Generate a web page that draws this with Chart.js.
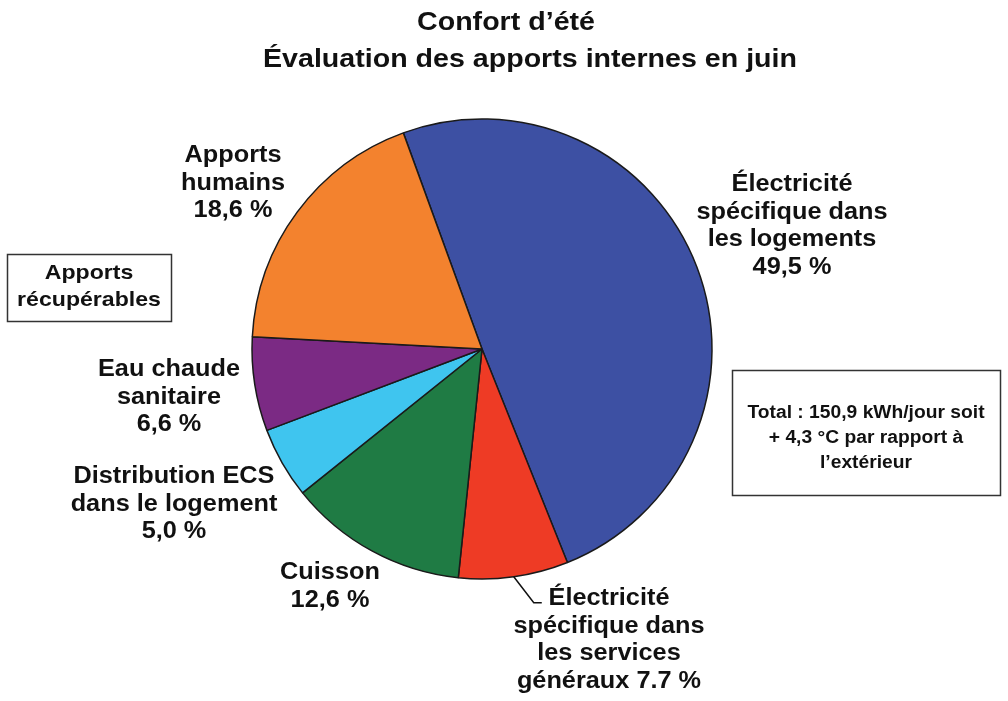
<!DOCTYPE html>
<html lang="fr">
<head>
<meta charset="utf-8">
<title>Confort d'été</title>
<script src="https://cdn.jsdelivr.net/npm/chart.js@4.4.1/dist/chart.umd.min.js"></script>
<style>
  html, body { margin: 0; padding: 0; background: #fff; }
  #wrap { width: 1008px; height: 701px; }
</style>
</head>
<body>
<div id="wrap"><canvas id="myChart" width="1008" height="701"></canvas></div>
<script>
"use strict";

//data, clockwise from the top
const categories = [
    'Électricité spécifique dans les logements',
    'Électricité spécifique dans les services généraux',
    'Cuisson',
    'Distribution ECS dans le logement',
    'Eau chaude sanitaire',
    'Apports humains'
];
const shares = [49.5, 7.7, 12.6, 5.0, 6.6, 18.6];
const shareTexts = ['49,5 %', '7.7 %', '12,6 %', '5,0 %', '6,6 %', '18,6 %'];
const labelLines = [
    ['Électricité', 'spécifique dans', 'les logements', shareTexts[0]],
    ['Électricité', 'spécifique dans', 'les services', 'généraux ' + shareTexts[1]],
    ['Cuisson', shareTexts[2]],
    ['Distribution ECS', 'dans le logement', shareTexts[3]],
    ['Eau chaude', 'sanitaire', shareTexts[4]],
    ['Apports', 'humains', shareTexts[5]]
];
const sliceColors = ['#3d50a3', '#ee3b25', '#1f7b44', '#3fc5ef', '#7b2a84', '#f3822e'];

const titleLines = ['Confort d\u2019été', 'Évaluation des apports internes en juin'];
const boxLeftLines = ['Apports', 'récupérables'];
const boxRightLines = ['Total : 150,9 kWh/jour soit', '+ 4,3 °C par rapport à', 'l\u2019extérieur'];

//label anchors: offset of first baseline from pie centre (px)
const labelOffsets = [[310, -158], [127, 256], [-152, 230], [-308, 134], [-313, 27], [-249, -187]];
const lineGap = 27.5;
const stretch = 1.1;   //text in the original is a bit wider than Arial

function drawText(ctx, text, x, y, size) {
    ctx.save();
    ctx.translate(x, y);
    ctx.scale(stretch, 1);
    ctx.font = 'bold ' + size + 'px "Liberation Sans", Arial, sans-serif';
    ctx.textAlign = 'center';
    ctx.textBaseline = 'alphabetic';
    ctx.fillStyle = '#111';
    ctx.fillText(text, 0, 0);
    ctx.restore();
}

//plugin for titles, slice labels and the two boxes
const annotations = {
    id: 'annotations',
    afterDraw(chart) {
        const ctx = chart.ctx;
        const arcs = chart.getDatasetMeta(0).data;
        const cx = arcs[0].x, cy = arcs[0].y;

        drawText(ctx, titleLines[0], 506, 30, 26);
        drawText(ctx, titleLines[1], 530, 67, 26);

        labelLines.forEach((lines, i) => {
            const [dx, dy] = labelOffsets[i];
            lines.forEach((t, j) => drawText(ctx, t, cx + dx, cy + dy + j * lineGap, 23));
        });

        //leader line for the small red slice
        const red = arcs[1];
        const mid = (red.startAngle + red.endAngle) / 2;
        const sx = cx + Math.cos(mid) * red.outerRadius;
        const sy = cy + Math.sin(mid) * red.outerRadius;
        ctx.save();
        ctx.strokeStyle = '#111';
        ctx.lineWidth = 1.5;
        ctx.beginPath();
        ctx.moveTo(sx, sy);
        ctx.lineTo(sx + 20, sy + 26);
        ctx.lineTo(sx + 28, sy + 26);
        ctx.stroke();

        //boxes
        ctx.lineWidth = 1.5;
        ctx.strokeStyle = '#333';
        ctx.strokeRect(7.5, 254.5, 164, 67);
        ctx.strokeRect(732.5, 370.5, 268, 125);
        ctx.restore();

        boxLeftLines.forEach((t, j) => drawText(ctx, t, 89, 279 + j * 27, 21));
        boxRightLines.forEach((t, j) => drawText(ctx, t, 866, 418 + j * 25, 17.5));
    }
};

const data = {
    labels: categories,
    datasets: [{
        data: shares,
        backgroundColor: sliceColors,
        borderColor: '#1a1a1a',
        borderWidth: 1.5
    }]
};

const config = {
    type: 'pie',
    data,
    options: {
        responsive: false,
        animation: false,
        rotation: -20,
        radius: 230,
        layout: {
            padding: { left: 252, right: 296, top: 119, bottom: 122 }
        },
        plugins: {
            legend: { display: false },
            tooltip: { enabled: false },
            title: { display: false }
        }
    },
    plugins: [annotations]
};

const myChart = new Chart(document.getElementById('myChart'), config);
</script>
</body>
</html>
